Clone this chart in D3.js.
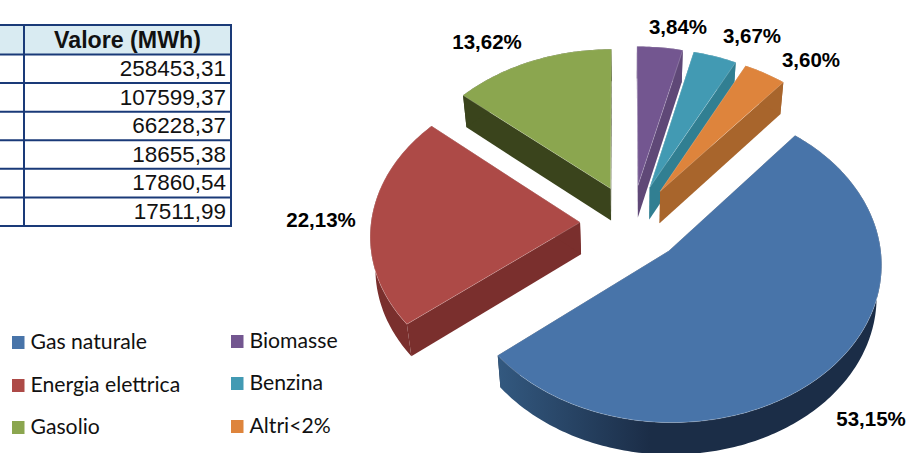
<!DOCTYPE html>
<html lang="it">
<head>
<meta charset="utf-8">
<title>Consumi energetici per vettore</title>
<script src="https://cdn.jsdelivr.net/npm/d3@7"></script>
<style>
  html, body { margin: 0; padding: 0; background: #fff; }
  svg { display: block; }
</style>
</head>
<body>
<svg id="chart" width="909" height="453"></svg>
<script>
// Data
const categories = ["Gas naturale", "Energia elettrica", "Gasolio", "Biomasse", "Benzina", "Altri<2%"];
const shares = [53.15, 22.13, 13.62, 3.84, 3.67, 3.60];
const tableHeader = "Valore (MWh)";
const tableValues = ["258453,31", "107599,37", "66228,37", "18655,38", "17860,54", "17511,99"];

// Styles per slice
const topColors = ["#4874a9", "#ad4a47", "#8ba64f", "#735690", "#429ab3", "#de843c"];
const wallColors = ["#1b2d47", "#7a2f2d", "#3a441c", "#5f4877", "#317f92", "#a8652c"];

// Layout
const W = 909, H = 453;
const cx = 632, cy = 223;       // pie centre on the page
const R = 209;                  // slice radius in the plane of the pie
const explode = 52;             // radial pull-out of every slice
const tilt = 0.74;              // vertical flattening of the plane
const persp = 0.000356;         // perspective strength
const depth = 32;               // thickness of the pie in px
const depthShrink = 0.98;       // lower face sits slightly further away
const rotation = 39.8 * Math.PI / 180;

const labelSpots = [[871, 419], [321, 220], [487, 42], [678, 27], [752, 36], [811, 60]];
const legendSpots = [[12, 349], [12, 392], [12, 434], [231, 348], [231, 390], [231, 433]];

const svg = d3.select("#chart");

// Gradient for the visible rim of the largest slice
const grad = svg.append("defs").append("linearGradient")
  .attr("id", "rimBlue").attr("gradientUnits", "userSpaceOnUse")
  .attr("x1", 497).attr("x2", 650).attr("y1", 0).attr("y2", 0);
grad.append("stop").attr("offset", 0).attr("stop-color", "#335980");
grad.append("stop").attr("offset", 1).attr("stop-color", "#1b2d47");

// Pie angles come from the percentage shares
const arcs = d3.pie().sort(null)
  .startAngle(rotation).endAngle(rotation + 2 * Math.PI)(shares);

// Projects a polar point of an exploded slice onto the page
function project(angle, r, mid, lower) {
  const X = explode * Math.sin(mid) + r * Math.sin(angle);
  const Y = explode * Math.cos(mid) + r * Math.cos(angle);
  const s = 1 / (1 + persp * Y);
  const f = lower ? depthShrink : 1;
  return [cx + X * s * f, cy - tilt * Y * s + (lower ? depth : 0)];
}

const line = d3.line();

function arcPoints(d, mid, lower) {
  const n = Math.max(8, Math.ceil((d.endAngle - d.startAngle) * 60));
  return d3.range(n + 1).map(i =>
    project(d.startAngle + (d.endAngle - d.startAngle) * i / n, R, mid, lower));
}

// Painted back to front so nearer slices cover farther walls
const paintOrder = [2, 3, 4, 5, 1, 0];
const pieLayer = svg.append("g");

paintOrder.forEach(i => {
  const d = arcs[i];
  const mid = (d.startAngle + d.endAngle) / 2;
  const g = pieLayer.append("g").attr("class", "slice");
  const topArc = arcPoints(d, mid, false);
  const lowArc = arcPoints(d, mid, true);
  const apexTop = project(0, 0, mid, false);
  const apexLow = project(0, 0, mid, true);
  const wall = i === 0 ? "url(#rimBlue)" : wallColors[i];

  // Straight walls along both cut edges
  [[topArc[0], lowArc[0]], [topArc[topArc.length - 1], lowArc[lowArc.length - 1]]].forEach(([a, b]) => {
    g.append("path")
      .attr("d", line([apexTop, a, b, apexLow]) + "Z")
      .attr("fill", wallColors[i]);
  });
  // Curved rim
  g.append("path")
    .attr("d", line(topArc.concat(lowArc.slice().reverse())) + "Z")
    .attr("fill", wall);
  // Upper face
  g.append("path")
    .attr("d", line([apexTop].concat(topArc)) + "Z")
    .attr("fill", topColors[i])
    .attr("stroke", "#fff").attr("stroke-opacity", 0.35).attr("stroke-width", 0.6);
});

// Value labels
svg.append("g").selectAll("text").data(shares).join("text")
  .attr("x", (d, i) => labelSpots[i][0])
  .attr("y", (d, i) => labelSpots[i][1] + 7)
  .attr("text-anchor", "middle")
  .attr("font-family", "'Liberation Sans', Arial, sans-serif")
  .attr("font-weight", "bold")
  .attr("font-size", 20.5)
  .attr("fill", "#000")
  .text(d => d.toFixed(2).replace(".", ",") + "%");

// Legend
const legend = svg.append("g").selectAll("g").data(categories).join("g")
  .attr("transform", (d, i) => `translate(${legendSpots[i][0]},${legendSpots[i][1]})`);
legend.append("rect")
  .attr("x", 0).attr("y", -13).attr("width", 12.5).attr("height", 13)
  .attr("fill", (d, i) => topColors[i]);
legend.append("text")
  .attr("x", 18.5)
  .attr("y", 0)
  .attr("font-family", "Lato, 'Open Sans', sans-serif")
  .attr("font-size", 21.2)
  .attr("fill", "#111")
  .text(d => d);

// Table of values: first column runs off the left edge of the page
const tableTop = 25, headerBottom = 54.5, tableBottom = 226;
const colSplit = 24, tableRight = 231;
const rowY = d3.scaleBand().domain(d3.range(tableValues.length))
  .range([headerBottom, tableBottom]);
const table = svg.append("g");
table.append("rect").attr("x", -10).attr("y", tableTop)
  .attr("width", tableRight + 10).attr("height", headerBottom - tableTop)
  .attr("fill", "#d9ebf2");

const border = "#1a3a78";
const rules = [tableTop, headerBottom].concat(tableValues.map((d, i) => rowY(i) + rowY.bandwidth()));
table.selectAll("line.h").data(rules).join("line")
  .attr("class", "h")
  .attr("x1", -10).attr("x2", tableRight + 1)
  .attr("y1", d => d).attr("y2", d => d)
  .attr("stroke", border).attr("stroke-width", 2);
table.selectAll("line.v").data([colSplit, tableRight]).join("line")
  .attr("class", "v")
  .attr("x1", d => d).attr("x2", d => d)
  .attr("y1", tableTop).attr("y2", tableBottom)
  .attr("stroke", border).attr("stroke-width", 2);

table.append("text")
  .attr("x", (colSplit + tableRight) / 2).attr("y", 48)
  .attr("text-anchor", "middle")
  .attr("font-family", "'Liberation Sans', Arial, sans-serif")
  .attr("font-weight", "bold").attr("font-size", 23.2)
  .attr("fill", "#111")
  .text(tableHeader);
table.selectAll("text.val").data(tableValues).join("text")
  .attr("class", "val")
  .attr("x", tableRight - 5)
  .attr("y", (d, i) => rowY(i) + rowY.bandwidth() - 7)
  .attr("text-anchor", "end")
  .attr("font-family", "'Liberation Sans', Arial, sans-serif")
  .attr("font-size", 22.5)
  .attr("fill", "#111")
  .text(d => d);
</script>
</body>
</html>
